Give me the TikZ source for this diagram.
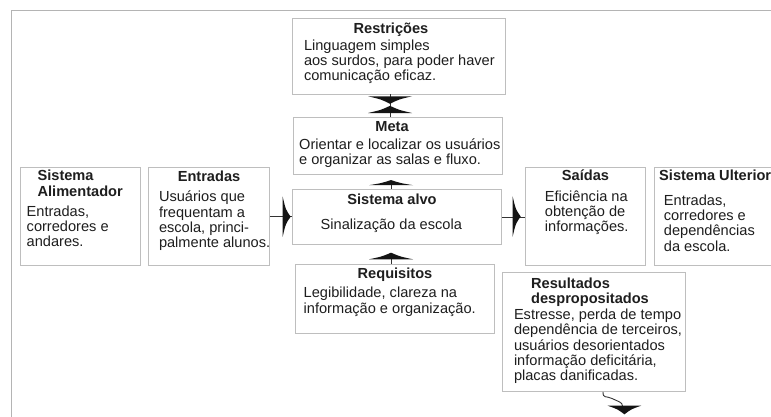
\documentclass[tikz,border=0pt]{standalone}
\usepackage{fontspec}
\setmainfont{Liberation Sans}
\definecolor{txt}{HTML}{1E1E1E}
\definecolor{boxc}{HTML}{BEBEBE}
\definecolor{framec}{HTML}{B4B4B4}
\definecolor{linec}{HTML}{333333}
\definecolor{headc}{HTML}{141414}
\newcommand{\ml}[1]{\begin{tabular}[t]{@{}l@{}}#1\end{tabular}}
\newcommand{\mkbox}[5]{\node[box,anchor=north west,minimum width={(#4)-(#2)},minimum height={(#5)-(#3)}] (#1) at (#2,#3) {};}
\tikzset{
  box/.style={draw=boxc,line width=0.9pt,rectangle,inner sep=0pt,fill=white},
  ttl/.style={font=\fontsize{14.6}{15.6}\selectfont\bfseries,text=txt,inner sep=0pt,anchor=base},
  body/.style={font=\fontsize{14.6}{15.4}\selectfont,text=txt,inner sep=0pt,anchor=base west},
  conn/.style={draw=linec,line width=0.9pt},
  hdown/.pic={\fill[headc] (-22,0) .. controls (-9,3) .. (0,7.5) .. controls (9,3) .. (22,0) -- cycle;},
  hup/.pic={\fill[headc] (-22,0) .. controls (-9,-3) .. (0,-7.2) .. controls (9,-3) .. (22,0) -- cycle;},
  hright/.pic={\fill[headc] (0,-20) .. controls (3,-7) .. (8,0) .. controls (3,7) .. (0,20) -- cycle;}
}
\begin{document}
\begin{tikzpicture}[x=1pt,y=-1pt]
\useasboundingbox (0,0) rectangle (771,416);
\clip (0,0) rectangle (771,416);
\fill[white] (0,0) rectangle (771,416);
% outer frame
\draw[draw=framec,line width=1pt] (11,430) -- (11,10) -- (790,10);
% boxes
\mkbox{restr}{292}{18}{505}{93.5}
\mkbox{meta}{293}{117}{502}{174}
\mkbox{alvo}{292}{189}{501}{244}
\mkbox{req}{295}{264}{494}{333}
\mkbox{alim}{20}{167}{140}{265}
\mkbox{entr}{148}{167}{269}{265}
\mkbox{sai}{525}{167}{645}{265}
\mkbox{ult}{654}{167}{790}{265}
\mkbox{res}{502}{272}{685}{391}
% texts
\node[ttl] (restrT) at (391,33) {Restrições};
\node[body] (restrB) at (303.8,50) {\ml{Linguagem simples\\aos surdos, para poder haver\\comunicação eficaz.}};
\node[ttl] (metaT) at (392,131.7) {Meta};
\node[body] (metaB) at (299,149) {\ml{Orientar e localizar os usuários\\e organizar as salas e fluxo.}};
\node[ttl] (alvoT) at (392,204) {Sistema alvo};
\node[body] (alvoB) at (320.5,229.3) {Sinalização da escola};
\node[ttl] (reqT) at (395,278) {Requisitos};
\node[body] (reqB) at (303.5,297.6) {\ml{Legibilidade, clareza na\\informação e organização.}};
\node[ttl,anchor=base west] (alimT) at (37.4,180.7) {\ml{Sistema\\Alimentador}};
\node[body] (alimB) at (26.5,216) {\ml{Entradas,\\corredores e\\andares.}};
\node[ttl] (entrT) at (209,181) {Entradas};
\node[body] (entrB) at (158.8,201.7) {\ml{Usuários que\\frequentam a\\escola, princi-\\palmente alunos.}};
\node[ttl] (saiT) at (585.5,180) {Saídas};
\node[body] (saiB) at (544.7,201) {\ml{Eficiência na\\obtenção de\\informações.}};
\node[ttl,anchor=base west] (ultT) at (659,180) {Sistema Ulterior};
\node[body] (ultB) at (663.7,205) {\ml{Entradas,\\corredores e\\dependências\\da escola.}};
\node[ttl,anchor=base west] (resT) at (531,288.3) {\ml{Resultados\\despropositados}};
\node[body] (resB) at (513.8,319.3) {\ml{Estresse, perda de tempo\\dependência de terceiros,\\usuários desorientados\\informação deficitária,\\placas danificadas.}};
% connectors
\coordinate (ax) at (390,0);
\coordinate (bx) at (391,0);
\coordinate (cx) at (603,0);
\coordinate (bend) at (622.5,406);
\draw[conn] (restr.south -| ax) -- (meta.north -| ax);
\draw[conn,shorten >=6pt] (alvo.north -| bx) -- (meta.south -| bx);
\draw[conn,shorten >=8pt] (req.north -| bx) -- (alvo.south -| bx);
\draw[conn] (entr.east) -- (entr.east -| alvo.west);
\draw[conn] (alvo.east) -- (alvo.east -| sai.west);
\draw[conn] (res.south -| cx) .. controls +(0,7) and +(-6,-3) .. (612,398.5) .. controls +(6,3) and +(0,-4) .. (bend);
% arrow heads
\pic at (390,96.3) {hdown};
\pic at (390,113) {hup};
\pic[yscale=0.72] at (391,185.2) {hup};
\pic[yscale=0.92] at (391,259.3) {hup};
\pic at (282.7,216.7) {hright};
\pic at (512.7,216.5) {hright};
\pic[xscale=0.76,yscale=1.15] at (624.4,405.7) {hdown};
\end{tikzpicture}
\end{document}
